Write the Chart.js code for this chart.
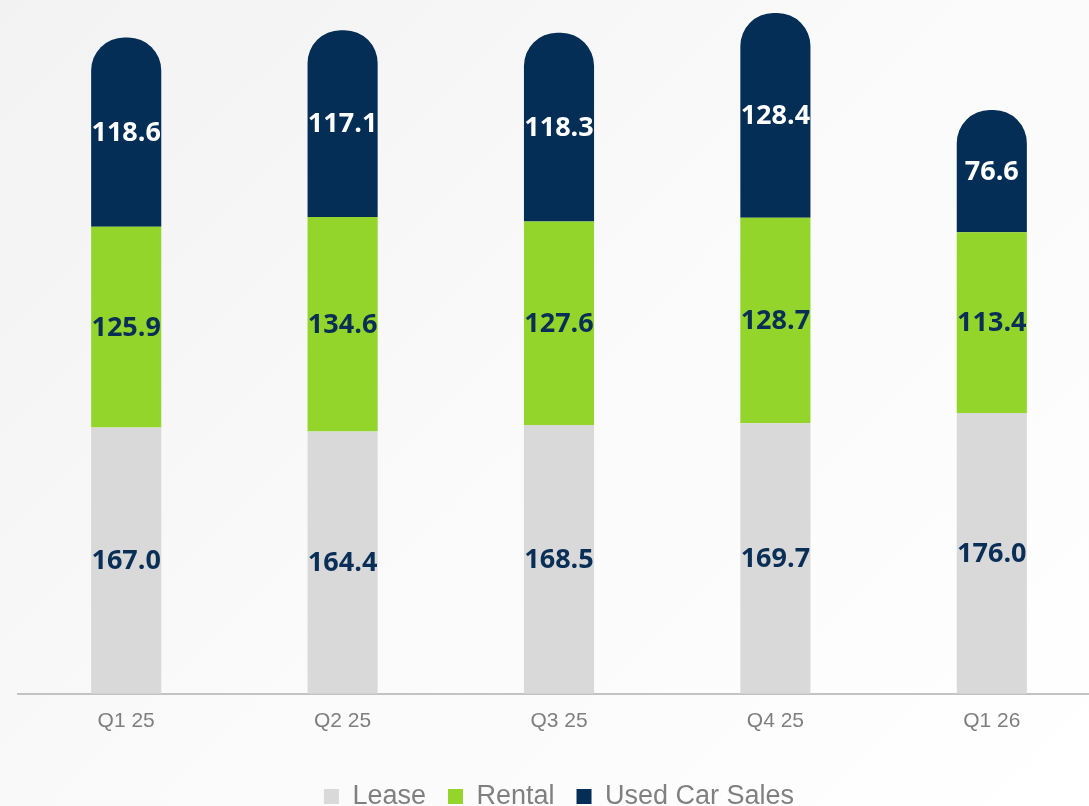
<!DOCTYPE html>
<html>
<head>
<meta charset="utf-8">
<script src="https://cdn.jsdelivr.net/npm/chart.js@4/dist/chart.umd.min.js"></script>
<style>
  html, body { margin: 0; padding: 0; overflow: hidden; }
  body { width: 1089px; height: 806px; background: linear-gradient(135deg, #f2f2f2 0%, #fafafa 50%, #ffffff 100%); }
  #wrap { width: 1110px; height: 820px; position: relative; }
</style>
</head>
<body>
<div id="wrap"><canvas id="grafico"></canvas></div>
<script>
const trimestres = ["Q1 25", "Q2 25", "Q3 25", "Q4 25", "Q1 26"];
const lease = [167.0, 164.4, 168.5, 169.7, 176.0];
const rental = [125.9, 134.6, 127.6, 128.7, 113.4];
const usedCarSales = [118.6, 117.1, 118.3, 128.4, 76.6];

// rótulos no meio de cada segmento
const rotulos = {
    id: "rotulos",
    afterDatasetsDraw(chart) {
        const ctx = chart.ctx;
        ctx.save();
        ctx.font = "bold 27px 'Open Sans', sans-serif";
        ctx.textAlign = "center";
        ctx.textBaseline = "middle";
        chart.data.datasets.forEach((ds, i) => {
            const meta = chart.getDatasetMeta(i);
            meta.data.forEach((bar, j) => {
                ctx.fillStyle = ds.labelColor;
                ctx.fillText(ds.data[j].toFixed(1), bar.x, (bar.y + bar.base) / 2 + 1);
            });
        });
        ctx.restore();
    }
};

const ctx = document.getElementById("grafico").getContext("2d");

new Chart(ctx, {
    type: "bar",
    data: {
        labels: trimestres,
        datasets: [
            {
                label: "Lease",
                data: lease,
                backgroundColor: "#d9d9d9",
                labelColor: "#0a2f57"
            },
            {
                label: "Rental",
                data: rental,
                backgroundColor: "#93d52a",
                labelColor: "#0a2f57"
            },
            {
                label: "Used Car Sales",
                data: usedCarSales,
                backgroundColor: "#042e56",
                labelColor: "#ffffff",
                borderRadius: { topLeft: 33, topRight: 33 },
                borderSkipped: false
            }
        ]
    },
    options: {
        responsive: true,
        maintainAspectRatio: false,
        animation: false,
        layout: { padding: { left: 18, right: 10, top: 0, bottom: 0 } },
        datasets: {
            bar: { categoryPercentage: 1, barPercentage: 0.324 }
        },
        plugins: {
            tooltip: { enabled: false },
            legend: {
                position: "bottom",
                labels: {
                    boxWidth: 15,
                    boxHeight: 15,
                    padding: 22,
                    color: "#808080",
                    font: { family: "'Liberation Sans', Arial, sans-serif", size: 27 }
                }
            }
        },
        scales: {
            x: {
                stacked: true,
                grid: { display: false },
                border: { display: true, color: "#c3c3c3", width: 2 },
                ticks: {
                    color: "#7f7f7f",
                    padding: 7,
                    font: { family: "'Liberation Sans', Arial, sans-serif", size: 21 }
                },
                afterFit(scale) {
                    scale.height += 20;
                }
            },
            y: {
                stacked: true,
                display: false,
                min: 0,
                max: 435
            }
        }
    },
    plugins: [rotulos]
});
</script>
</body>
</html>
